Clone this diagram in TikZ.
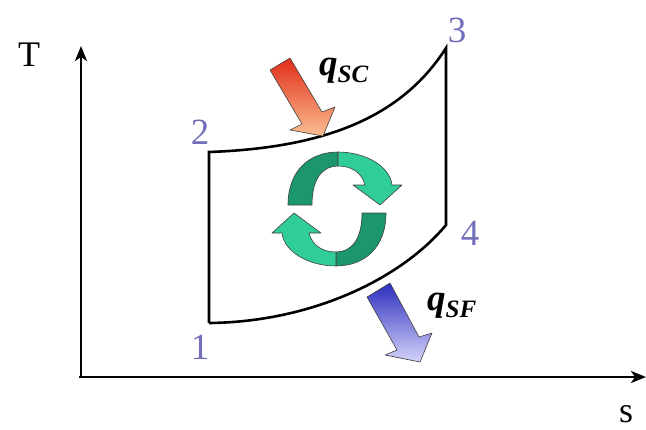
\documentclass[tikz,border=0pt]{standalone}
\usepackage{fontspec}
\setmainfont{Liberation Serif}
\usetikzlibrary{arrows.meta,positioning}

\definecolor{ptblue}{RGB}{115,110,185}
\definecolor{darkgreen}{RGB}{28,150,108}
\definecolor{lightgreen}{RGB}{48,205,155}
\definecolor{hotred}{RGB}{225,45,25}
\definecolor{hotorange}{RGB}{250,190,145}
\definecolor{coldblue}{RGB}{45,45,190}
\definecolor{coldlilac}{RGB}{212,212,250}

\begin{document}
\begin{tikzpicture}[
    x=1pt, y=-1pt,
    axis/.style={line width=2.6pt, -{Stealth[length=15pt, width=12pt, inset=4pt]}},
    cycleline/.style={line width=2.6pt, line join=miter},
    ptlabel/.style={text=ptblue, font=\fontsize{37}{40}\selectfont, inner sep=0pt},
    axlabel/.style={font=\fontsize{36}{40}\selectfont, inner sep=0pt},
    heatlabel/.style={font=\fontsize{37}{40}\selectfont\bfseries\itshape, inner sep=0pt, anchor=base west},
    heatarrow/.style={draw=black!75, line width=0.6pt, line join=round},
    cyclearrow/.style={draw=black!75, line width=0.6pt, line join=round}
]
    \useasboundingbox (0,0) rectangle (646,429);

    % Axes
    \coordinate (origin) at (81,377);
    \coordinate (tmax) at (81,46);
    \coordinate (smax) at (646,377);
    \draw[axis] (79,377) -- (smax);
    \draw[axis] (origin) -- (tmax);
    \node[axlabel] (tlab) at (29,55) {T};
    \node[axlabel] (slab) at (626,414) {s};

    % Cycle corners
    \coordinate (p1) at (209,323);
    \coordinate (p2) at (209,152);
    \coordinate (p3) at (446,48);
    \coordinate (p4) at (446,225);
    \draw[cycleline] (p1) -- (p2) .. controls (320,148) and (400,120) .. (p3)
        -- (p4) .. controls (400,280) and (310,322) .. (p1);

    \node[ptlabel] (l1) at (200,347) {1};
    \node[ptlabel] (l2) at (200,132) {2};
    \node[ptlabel] (l3) at (457,30) {3};
    \node[ptlabel] (l4) at (470,233) {4};

    % Heat in / heat out
    \draw[heatarrow, top color=hotred, bottom color=hotorange]
        (270,70) -- (302,124) -- (290,130) -- (323,136) -- (335,107) -- (322,112) -- (290,58) -- cycle;
    \draw[heatarrow, top color=coldblue, bottom color=coldlilac]
        (367,297) -- (397,350) -- (385,355) -- (420,362) -- (432,333) -- (419,337) -- (390,283) -- cycle;
    \node[heatlabel] (qsc) at (319,75) {q\raisebox{-7pt}{\fontsize{25}{26}\selectfont SC}};
    \node[heatlabel] (qsf) at (427,310) {q\raisebox{-7pt}{\fontsize{25}{26}\selectfont SF}};

    % Circulation arrows
    \foreach \cx/\cy/\ang in {335/208/0, 339/210/180} {
        \begin{scope}[shift={(\cx,\cy)}, rotate=\ang]
            \draw[cyclearrow, fill=darkgreen] (-47,-3) .. controls (-47,-38) and (-25,-56) .. (3,-56)
                -- (3,-42) .. controls (-12,-42) and (-23,-30) .. (-23,-3) -- cycle;
            \draw[cyclearrow, fill=lightgreen] (3,-56) .. controls (30,-56) and (55,-42) .. (57,-23)
                -- (67,-23) -- (45,-3) -- (18,-23) -- (30,-23)
                .. controls (27,-35) and (17,-42) .. (3,-42) -- cycle;
        \end{scope}
    }
\end{tikzpicture}
\end{document}
